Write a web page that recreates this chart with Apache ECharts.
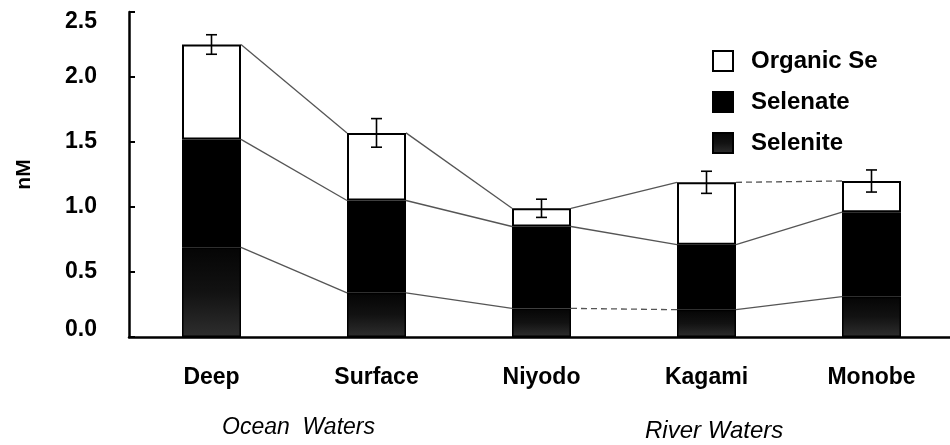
<!DOCTYPE html>
<html>
<head>
<meta charset="utf-8">
<script src="https://cdn.jsdelivr.net/npm/echarts@6/dist/echarts.min.js"></script>
<style>
  html, body { margin: 0; padding: 0; background: #fff; }
  #chart { width: 950px; height: 445px; }
</style>
</head>
<body>
<div id="chart"></div>
<script>
// Selenium species (nM) at each sampling site
const categories = ['Deep', 'Surface', 'Niyodo', 'Kagami', 'Monobe'];
const selenite  = [0.69, 0.34, 0.22, 0.21, 0.31];
const selenate  = [0.83, 0.71, 0.63, 0.50, 0.65];
const organicSe = [0.73, 0.52, 0.14, 0.48, 0.24];
const totalErr  = [0.075, 0.11, 0.07, 0.085, 0.085];
const yTicks = [0, 0.5, 1.0, 1.5, 2.0, 2.5];
// connectors drawn dashed: [from site index, level (0 selenite, 1 selenate, 2 total)]
const dashedLinks = [[2, 0], [3, 2]];
const groupLabels = ['Ocean  Waters', 'River Waters'];

const FONT = '"Liberation Sans", Arial, sans-serif';
const BAR_W = 59;
const HALF = BAR_W / 2;

// cumulative heights of each stacked level
const levels = categories.map((_, i) => [
  selenite[i],
  selenite[i] + selenate[i],
  selenite[i] + selenate[i] + organicSe[i]
]);

const linkData = [];
for (let i = 0; i < categories.length - 1; i++) {
  for (let k = 0; k < 3; k++) {
    const dashed = dashedLinks.some(d => d[0] === i && d[1] === k) ? 1 : 0;
    linkData.push([i, levels[i][k], levels[i + 1][k], dashed]);
  }
}
const errData = categories.map((_, i) => [i, levels[i][2], totalErr[i]]);

const chart = echarts.init(document.getElementById('chart'), null, { renderer: 'canvas' });

chart.setOption({
  animation: false,
  backgroundColor: '#fff',
  grid: { left: 129, top: 12, width: 825, height: 325, containLabel: false, outerBoundsMode: 'none' },
  legend: {
    orient: 'vertical',
    left: 707,
    top: 44,
    padding: 5,
    itemWidth: 20,
    itemHeight: 20,
    itemGap: 17,
    icon: 'rect',
    data: ['Organic Se', 'Selenate', 'Selenite'],
    textStyle: { fontFamily: FONT, fontSize: 24, fontWeight: 'bold', color: '#000', padding: [0, 0, 0, 13] }
  },
  xAxis: {
    type: 'category',
    data: categories,
    boundaryGap: true,
    axisLine: { lineStyle: { color: '#000', width: 2.5 } },
    axisTick: { inside: true, length: 6, lineStyle: { color: '#000', width: 2 } },
    axisLabel: { margin: 29, color: '#000', fontFamily: FONT, fontSize: 23, fontWeight: 'bold' }
  },
  yAxis: {
    type: 'value',
    min: 0,
    max: 2.5,
    interval: 0.5,
    name: 'nM',
    nameLocation: 'middle',
    nameRotate: 90,
    nameGap: 94,
    nameTextStyle: { color: '#000', fontFamily: FONT, fontSize: 21, fontWeight: 'bold' },
    splitLine: { show: false },
    axisLine: { show: true, lineStyle: { color: '#000', width: 2.5 } },
    axisTick: { show: true, inside: true, length: 6, lineStyle: { color: '#000', width: 2 } },
    axisLabel: {
      margin: 32,
      color: '#000',
      fontFamily: FONT,
      fontSize: 23,
      fontWeight: 'bold',
      formatter: v => {
        const s = v.toFixed(1);
        if (v === yTicks[yTicks.length - 1]) return '{t|' + s + '}';
        if (v === yTicks[0]) return '{b|' + s + '}';
        return s;
      },
      rich: {
        t: { padding: [20, 0, 0, 0], fontFamily: FONT, fontSize: 23, fontWeight: 'bold', color: '#000' },
        b: { padding: [0, 0, 14, 0], fontFamily: FONT, fontSize: 23, fontWeight: 'bold', color: '#000' }
      }
    }
  },
  graphic: [
    { type: 'text', left: 222, top: 416,
      style: { text: groupLabels[0], fontFamily: FONT, fontSize: 23, fontStyle: 'italic', fill: '#000' } },
    { type: 'text', left: 645, top: 419,
      style: { text: groupLabels[1], fontFamily: FONT, fontSize: 24, fontStyle: 'italic', fill: '#000' } }
  ],
  series: [
    {
      type: 'custom',
      name: 'links',
      data: linkData,
      encode: { x: 0, y: [1, 2] },
      z: 1,
      silent: true,
      renderItem: (params, api) => {
        const i = api.value(0);
        const a = api.coord([i, api.value(1)]);
        const b = api.coord([i + 1, api.value(2)]);
        return {
          type: 'line',
          shape: { x1: a[0] + HALF, y1: a[1], x2: b[0] - HALF, y2: b[1] },
          style: { stroke: '#555', lineWidth: 1.3, lineDash: api.value(3) ? [6, 4] : null }
        };
      }
    },
    {
      type: 'bar', name: 'Selenite', stack: 'se', data: selenite, barWidth: BAR_W, z: 2,
      itemStyle: {
        color: new echarts.graphic.LinearGradient(0, 0, 0, 1, [
          { offset: 0, color: '#050505' },
          { offset: 0.5, color: '#121212' },
          { offset: 1, color: '#2e2e2e' }
        ]),
        borderColor: '#000', borderWidth: 1.5
      }
    },
    {
      type: 'bar', name: 'Selenate', stack: 'se', data: selenate, barWidth: BAR_W, z: 2,
      itemStyle: { color: '#000', borderColor: '#000', borderWidth: 1.5 }
    },
    {
      type: 'bar', name: 'Organic Se', stack: 'se', data: organicSe, barWidth: BAR_W, z: 2,
      itemStyle: { color: '#fff', borderColor: '#000', borderWidth: 2 }
    },
    {
      type: 'custom',
      name: 'error',
      data: errData,
      encode: { x: 0, y: 1 },
      z: 3,
      silent: true,
      renderItem: (params, api) => {
        const i = api.value(0);
        const v = api.value(1);
        const e = api.value(2);
        const top = api.coord([i, v + e]);
        const bot = api.coord([i, v - e]);
        const cap = 5.5;
        const st = { stroke: '#000', lineWidth: 1.6 };
        return {
          type: 'group',
          children: [
            { type: 'line', shape: { x1: top[0], y1: top[1], x2: bot[0], y2: bot[1] }, style: st },
            { type: 'line', shape: { x1: top[0] - cap, y1: top[1], x2: top[0] + cap, y2: top[1] }, style: st },
            { type: 'line', shape: { x1: bot[0] - cap, y1: bot[1], x2: bot[0] + cap, y2: bot[1] }, style: st }
          ]
        };
      }
    }
  ]
});
</script>
</body>
</html>
